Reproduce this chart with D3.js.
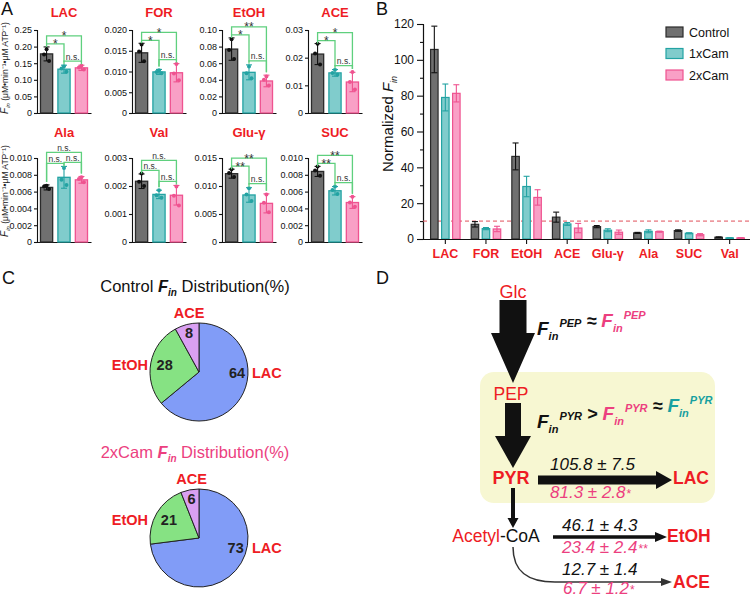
<!DOCTYPE html>
<html>
<head>
<meta charset="utf-8">
<script src="https://cdn.jsdelivr.net/npm/d3@7"></script>
<style>
  body { margin: 0; background: #fff; }
  svg { font-family: "Liberation Sans", Arial, sans-serif; }
</style>
</head>
<body>
<div id="chart"></div>
<script>
// ---------- data ----------
const groups = ["Control", "1xCam", "2xCam"];

// panel A : F_in (uM/min per uM ATP), mean, sd, replicate points
const aNames = ["LAC", "FOR", "EtOH", "ACE", "Ala", "Val", "Glu-γ", "SUC"];
const aMeans = [
  [0.178, 0.132, 0.136],
  [0.0145, 0.0099, 0.0097],
  [0.077, 0.049, 0.0386],
  [0.0213, 0.0145, 0.0112],
  [0.0065, 0.0077, 0.0074],
  [0.00217, 0.0017, 0.00167],
  [0.0122, 0.0084, 0.0069],
  [0.0084, 0.0061, 0.0047]
];
const aSD = [
  [0.021, 0.012, 0.008],
  [0.0023, 0.0006, 0.0022],
  [0.0135, 0.009, 0.007],
  [0.0038, 0.0012, 0.0035],
  [0.0003, 0.0013, 0.0004],
  [0.00026, 0.00015, 0.00035],
  [0.0008, 0.0013, 0.0017],
  [0.0006, 0.0005, 0.0007]
];
const aPoints = [
  [[0.192, 0.176, 0.157], [0.141, 0.134, 0.124], [0.142, 0.137, 0.131]],
  [[0.0165, 0.0148, 0.0125], [0.0103, 0.0099, 0.0096], [0.0118, 0.0095, 0.0079]],
  [[0.089, 0.076, 0.065], [0.056, 0.048, 0.042], [0.044, 0.040, 0.033]],
  [[0.025, 0.0215, 0.0175], [0.0156, 0.0145, 0.0138], [0.0148, 0.0112, 0.0085]],
  [[0.0067, 0.0066, 0.0063], [0.0088, 0.0074, 0.0068], [0.0077, 0.0075, 0.0071]],
  [[0.00245, 0.00215, 0.0020], [0.00185, 0.00167, 0.00158], [0.00198, 0.00165, 0.0013]],
  [[0.0130, 0.0123, 0.0116], [0.0096, 0.0085, 0.0073], [0.0085, 0.0070, 0.0053]],
  [[0.0090, 0.0085, 0.0079], [0.0066, 0.0062, 0.0057], [0.0054, 0.0047, 0.0042]]
];
const aMax = [0.25, 0.020, 0.10, 0.03, 0.010, 0.003, 0.015, 0.010];
const aTickLabels = [
  ["0", "0.05", "0.10", "0.15", "0.20", "0.25"],
  ["0", "0.005", "0.010", "0.015", "0.020"],
  ["0", "0.02", "0.04", "0.06", "0.08", "0.10"],
  ["0", "0.01", "0.02", "0.03"],
  ["0", "0.002", "0.004", "0.006", "0.008", "0.010"],
  ["0", "0.001", "0.002", "0.003"],
  ["0", "0.005", "0.010", "0.015"],
  ["0", "0.002", "0.004", "0.006", "0.008", "0.010"]
];
// significance: [Control vs 1x, Control vs 2x, 1x vs 2x]
const aSig = [
  ["*", "*", "n.s."], ["*", "*", "n.s."], ["*", "**", "n.s."], ["*", "*", "n.s."],
  ["n.s.", "n.s.", "n.s."], ["n.s.", "n.s.", "n.s."], ["**", "**", "n.s."], ["**", "**", "n.s."]
];

// panel B : normalized F_in
const bCats = ["LAC", "FOR", "EtOH", "ACE", "Glu-γ", "Ala", "SUC", "Val"];
const bControl = [105.8, 8.2, 46.1, 12.2, 6.9, 3.4, 4.7, 1.0];
const bControlErr = [13, 1.5, 7.5, 2.8, 0.6, 0.3, 0.4, 0.2];
const b1x = [79, 5.8, 29.3, 8.4, 4.9, 4.3, 3.2, 0.6];
const b1xErr = [7.5, 0.6, 5.7, 0.8, 0.8, 0.8, 0.3, 0.1];
const b2x = [81.3, 5.6, 23.2, 6.1, 3.8, 4.1, 2.4, 0.6];
const b2xErr = [4.8, 1.5, 4.3, 2.6, 1.2, 0.3, 0.6, 0.2];
const bThreshold = 10;

// panel C : distribution (%)
const pieLabels = ["LAC", "EtOH", "ACE"];
const pieControl = [64, 28, 8];
const pieCam = [73, 21, 6];

// panel D : fluxes from PYR / Acetyl-CoA
const dTargets = ["LAC", "EtOH", "ACE"];
const dCtrl = [105.8, 46.1, 12.7];
const dCtrlErr = [7.5, 4.3, 1.4];
const dCam = [81.3, 23.4, 6.7];
const dCamErr = [2.8, 2.4, 1.2];
const dSig = ["*", "**", "*"];

// ---------- styles ----------
const RED = "#ee1c24", PINK = "#ec3f7f", TEAL = "#17a0a0", GREEN = "#5fd07e";
const fills = ["#707070", "#80cccc", "#f9a0c6"];
const strokes = ["#2b2b2b", "#23a3a3", "#ef5390"];

const svg = d3.select("#chart").append("svg")
    .attr("width", 750)
    .attr("height", 597);

// panel letters
[["A", 1, 15], ["B", 376, 15], ["C", 2, 284], ["D", 376, 284]].forEach(p => {
    svg.append("text").attr("x", p[1]).attr("y", p[2]).attr("font-size", 18).attr("fill", "#111").text(p[0]);
});

function styleAxis(g, size) {
    g.attr("font-family", null).attr("font-size", size);
    g.selectAll("path, line").attr("stroke", "#111").attr("stroke-width", 1.1);
    g.selectAll("text").attr("fill", "#111");
}

/* ===== PANEL A ===== */
const aColX = [37, 132, 222, 308];
const aRowY = [[30, 113], [158, 242]];
const aTitleY = [17, 137];
const aLabelY = [68, 191];
const aW = 54;

// y label for each row
aLabelY.forEach(cy => {
    const t = svg.append("text")
        .attr("transform", `translate(7.5,${cy}) rotate(-90)`)
        .attr("text-anchor", "middle")
        .attr("font-size", 8.5)
        .attr("fill", "#222");
    t.append("tspan").attr("font-style", "italic").attr("font-size", 10).text("F");
    t.append("tspan").attr("font-style", "italic").attr("font-size", 6).attr("dy", 2).text("in");
    t.append("tspan").attr("dy", -2).text(" (μM•min⁻¹•μM ATP⁻¹)");
});

const dotDx = [0, -2.5, 2.5];

aNames.forEach((name, k) => {
    const col = k % 4, row = Math.floor(k / 4);
    const top = aRowY[row][0], bot = aRowY[row][1];
    const g = svg.append("g").attr("transform", `translate(${aColX[col]},0)`);
    const x = d3.scaleBand().domain(groups).range([0, aW]).paddingInner(0.3).paddingOuter(0.2);
    const y = d3.scaleLinear().domain([0, aMax[k]]).range([bot, top]);
    const cx = i => x(groups[i]) + x.bandwidth() / 2;

    styleAxis(g.append("g").call(d3.axisLeft(y)
        .tickValues(aTickLabels[k].map(Number))
        .tickSize(3).tickPadding(2)
        .tickFormat((d, i) => aTickLabels[k][i])), 9);
    styleAxis(g.append("g").attr("transform", `translate(0,${bot})`)
        .call(d3.axisBottom(x).tickSize(0).tickFormat("")), 10);

    // title
    g.append("text").attr("x", aW / 2).attr("y", aTitleY[row])
        .attr("text-anchor", "middle").attr("font-weight", "bold")
        .attr("font-size", 13).attr("fill", RED).text(name);

    // bars
    g.selectAll("rect.bar").data(groups).enter().append("rect")
        .attr("x", d => x(d))
        .attr("y", (d, i) => y(aMeans[k][i]))
        .attr("width", x.bandwidth())
        .attr("height", (d, i) => bot - y(aMeans[k][i]))
        .attr("fill", (d, i) => fills[i])
        .attr("stroke", (d, i) => strokes[i])
        .attr("stroke-width", 1.3);

    // error bars and replicate points
    groups.forEach((gr, i) => {
        const m = aMeans[k][i], s = aSD[k][i];
        const eg = g.append("g").attr("stroke", i === 0 ? "#111" : strokes[i]).attr("stroke-width", 1.1);
        eg.append("line").attr("x1", cx(i)).attr("x2", cx(i)).attr("y1", y(m + s)).attr("y2", y(m - s));
        eg.append("line").attr("x1", cx(i) - 3).attr("x2", cx(i) + 3).attr("y1", y(m + s)).attr("y2", y(m + s));
        eg.append("line").attr("x1", cx(i) - 3).attr("x2", cx(i) + 3).attr("y1", y(m - s)).attr("y2", y(m - s));
        g.selectAll(null).data(aPoints[k][i]).enter().append("circle")
            .attr("cx", (d, j) => cx(i) + dotDx[j])
            .attr("cy", d => y(d))
            .attr("r", 2)
            .attr("fill", i === 0 ? "#111" : strokes[i]);
    });

    // significance brackets
    const topOf = i => Math.min(y(aMeans[k][i] + aSD[k][i]), y(d3.max(aPoints[k][i])));
    const lvlInner = Math.min(topOf(0), topOf(1)) - 3;
    const lvlNs = Math.min(topOf(1), topOf(2)) - 4;
    const lvlOuter = Math.min(lvlInner, lvlNs) - (aSig[k][1] === "n.s." ? 10 : 8);
    const brackets = [[0, 1, lvlInner, aSig[k][0]], [0, 2, lvlOuter, aSig[k][1]], [1, 2, lvlNs, aSig[k][2]]];
    brackets.forEach(b => {
        const x1 = cx(b[0]), x2 = cx(b[1]), L = b[2];
        const leg1 = Math.max(L + 3, topOf(b[0]) - 3), leg2 = Math.max(L + 3, topOf(b[1]) - 3);
        g.append("path")
            .attr("d", `M${x1},${leg1}V${L}H${x2}V${leg2}`)
            .attr("fill", "none").attr("stroke", GREEN).attr("stroke-width", 1.3);
        const ns = b[3] === "n.s.";
        g.append("text").attr("x", (x1 + x2) / 2)
            .attr("y", ns ? L - 1.5 : L + 4.5)
            .attr("text-anchor", "middle")
            .attr("font-size", ns ? 8.5 : 12)
            .attr("fill", "#333").text(b[3]);
    });
});

/* ===== PANEL B ===== */
const bSeries = [bControl, b1x, b2x];
const bErrs = [bControlErr, b1xErr, b2xErr];
const bX = d3.scaleBand().domain(bCats).range([423, 752]).paddingInner(0).paddingOuter(0.05);
const bY = d3.scaleLinear().domain([0, 120]).range([239, 24]);
const bSub = d3.scaleBand().domain(groups).range([-14.75, 14.75]).paddingInner(0.32);
const bc = d => bX(d) + bX.bandwidth() / 2;

// minor ticks
styleAxis(svg.append("g").attr("transform", "translate(423,0)")
    .call(d3.axisLeft(bY).tickValues(d3.range(10, 120, 20)).tickSize(3).tickFormat("")), 12);
styleAxis(svg.append("g").attr("transform", "translate(423,0)")
    .call(d3.axisLeft(bY).tickValues(d3.range(0, 121, 20)).tickSize(6).tickSizeOuter(0).tickPadding(3)), 12);

// threshold line
svg.append("line")
    .attr("x1", 423).attr("x2", 752)
    .attr("y1", bY(bThreshold)).attr("y2", bY(bThreshold))
    .attr("stroke", "#e0505a").attr("stroke-width", 1).attr("stroke-dasharray", "4,3");

bSeries.forEach((ser, i) => {
    svg.selectAll(null).data(bCats).enter().append("rect")
        .attr("x", d => bc(d) + bSub(groups[i]))
        .attr("y", (d, j) => bY(ser[j]))
        .attr("width", bSub.bandwidth())
        .attr("height", (d, j) => bY(0) - bY(ser[j]))
        .attr("fill", fills[i])
        .attr("stroke", strokes[i])
        .attr("stroke-width", 1.2);
    const ex = d => bc(d) + bSub(groups[i]) + bSub.bandwidth() / 2;
    const eg = svg.append("g").attr("stroke", i === 0 ? "#111" : strokes[i]).attr("stroke-width", 1.1);
    bCats.forEach((d, j) => {
        const hi = bY(ser[j] + bErrs[i][j]), lo = bY(Math.max(0, ser[j] - bErrs[i][j]));
        eg.append("line").attr("x1", ex(d)).attr("x2", ex(d)).attr("y1", hi).attr("y2", lo);
        eg.append("line").attr("x1", ex(d) - 3).attr("x2", ex(d) + 3).attr("y1", hi).attr("y2", hi);
        eg.append("line").attr("x1", ex(d) - 3).attr("x2", ex(d) + 3).attr("y1", lo).attr("y2", lo);
    });
});

const bxAxis = svg.append("g").attr("transform", `translate(0,${bY(0)})`)
    .call(d3.axisBottom(bX).tickSize(5).tickSizeOuter(0).tickPadding(5));
styleAxis(bxAxis, 12.5);
bxAxis.selectAll("text").attr("fill", RED).attr("font-weight", "bold");

// y label
const bLab = svg.append("text")
    .attr("transform", `translate(393,124) rotate(-90)`)
    .attr("text-anchor", "middle").attr("font-size", 15).attr("fill", "#111");
bLab.append("tspan").text("Normalized ");
bLab.append("tspan").attr("font-style", "italic").text("F");
bLab.append("tspan").attr("font-style", "italic").attr("font-size", 9).attr("dy", 4).text("in");

// legend
groups.forEach((gr, i) => {
    svg.append("rect").attr("x", 666).attr("y", 27 + i * 21.5).attr("width", 17).attr("height", 10)
        .attr("fill", fills[i]).attr("stroke", strokes[i]).attr("stroke-width", 1.2);
    svg.append("text").attr("x", 689).attr("y", 36.5 + i * 21.5).attr("font-size", 12.5)
        .attr("fill", "#111").text(gr);
});

/* ===== PANEL C ===== */
const pieColors = ["#819cf7", "#86e283", "#d9a0f2"];
const pieSets = [
    { title: "Control", vals: pieControl, cy: 372, ty: 292, color: "#111" },
    { title: "2xCam", vals: pieCam, cy: 538, ty: 458, color: PINK }
];
const R = 49, pcx = 199;
const pie = d3.pie().sort(null).value(d => d);
const arc = d3.arc().innerRadius(0).outerRadius(R);

pieSets.forEach(ps => {
    const t = svg.append("text").attr("x", 195).attr("y", ps.ty)
        .attr("text-anchor", "middle").attr("font-size", 16.5).attr("fill", ps.color);
    t.append("tspan").text(ps.title + " ");
    t.append("tspan").attr("font-weight", "bold").attr("font-style", "italic").text("F");
    t.append("tspan").attr("font-weight", "bold").attr("font-style", "italic").attr("font-size", 10).attr("dy", 4).text("in");
    t.append("tspan").attr("dy", -4).text(" Distribution(%)");

    const g = svg.append("g").attr("transform", `translate(${pcx},${ps.cy})`);
    const arcs = pie(ps.vals);
    g.selectAll("path").data(arcs).enter().append("path")
        .attr("d", arc)
        .attr("fill", (d, i) => pieColors[i])
        .attr("stroke", "#222").attr("stroke-width", 1);

    arcs.forEach((a, i) => {
        let ang = (a.startAngle + a.endAngle) / 2;
        let r = i === 2 ? 40 : 35;
        if (i === 0) { ang *= 0.8; r = 38; }
        const nx = Math.sin(ang) * r, ny = -Math.cos(ang) * r;
        g.append("text").attr("x", nx).attr("y", ny + 5)
            .attr("text-anchor", "middle").attr("font-weight", "bold")
            .attr("font-size", 14.5).attr("fill", "#222").text(ps.vals[i]);
        const lab = g.append("text").attr("font-weight", "bold").attr("font-size", 14.5).attr("fill", RED).text(pieLabels[i]);
        if (i === 0) lab.attr("x", R + 4).attr("y", ny + 5);
        else if (i === 1) lab.attr("x", -R - 2).attr("y", ny + 5).attr("text-anchor", "end");
        else lab.attr("x", nx).attr("y", -R - 5).attr("text-anchor", "middle");
    });
});

/* ===== PANEL D ===== */
const dg = svg.append("g");
dg.append("rect").attr("x", 480).attr("y", 372).attr("width", 235).attr("height", 131)
    .attr("rx", 14).attr("fill", "#f7f7d2");

const line = d3.line();
function vArrow(x, y1, y2, shaft, head, headLen) {
    return line([[x - shaft / 2, y1], [x + shaft / 2, y1], [x + shaft / 2, y2 - headLen], [x + head / 2, y2 - headLen],
        [x, y2], [x - head / 2, y2 - headLen], [x - shaft / 2, y2 - headLen]]) + "Z";
}
function hArrow(y, x1, x2, shaft, head, headLen) {
    return line([[x1, y - shaft / 2], [x2 - headLen, y - shaft / 2], [x2 - headLen, y - head / 2], [x2, y],
        [x2 - headLen, y + head / 2], [x2 - headLen, y + shaft / 2], [x1, y + shaft / 2]]) + "Z";
}

dg.append("path").attr("d", vArrow(513, 300, 383, 27, 44, 50)).attr("fill", "#111");
dg.append("path").attr("d", vArrow(513, 403, 468, 16, 36, 32)).attr("fill", "#111");
dg.append("path").attr("d", vArrow(513, 488, 528, 4, 11, 10)).attr("fill", "#111");
dg.append("path").attr("d", hArrow(480, 538, 672, 9, 18, 16)).attr("fill", "#111");
dg.append("path").attr("d", hArrow(537, 553, 667, 3.5, 10, 12)).attr("fill", "#111");
dg.append("path").attr("d", "M513,547C513,572 528,582 555,582H662")
    .attr("fill", "none").attr("stroke", "#333").attr("stroke-width", 1.5);
dg.append("path").attr("d", hArrow(582, 660, 672, 1.5, 8, 11)).attr("fill", "#333");

// metabolite names
dg.append("text").attr("x", 513).attr("y", 298).attr("text-anchor", "middle").attr("font-size", 18).attr("fill", RED).text("Glc");
dg.append("text").attr("x", 511).attr("y", 400).attr("text-anchor", "middle").attr("font-size", 17.5).attr("fill", RED).text("PEP");
dg.append("text").attr("x", 511).attr("y", 484).attr("text-anchor", "middle").attr("font-size", 18).attr("font-weight", "bold").attr("fill", RED).text("PYR");
const acoa = dg.append("text").attr("x", 496).attr("y", 542).attr("text-anchor", "middle").attr("font-size", 17.5);
acoa.append("tspan").attr("fill", RED).text("Acetyl");
acoa.append("tspan").attr("fill", "#111").text("-CoA");

const targetX = [673, 667, 673], targetY = [484, 542, 588];
const ctrlPos = [[550, 470], [562, 531], [562, 575]];
const camPos = [[550, 498], [562, 553], [563, 594]];
dTargets.forEach((t, i) => {
    dg.append("text").attr("x", targetX[i]).attr("y", targetY[i]).attr("font-size", 17.5)
        .attr("font-weight", "bold").attr("fill", RED).text(t);
    dg.append("text").attr("x", ctrlPos[i][0]).attr("y", ctrlPos[i][1]).attr("font-size", 17)
        .attr("font-style", "italic").attr("fill", "#111")
        .text(`${dCtrl[i].toFixed(1)} ± ${dCtrlErr[i].toFixed(1)}`);
    const c = dg.append("text").attr("x", camPos[i][0]).attr("y", camPos[i][1]).attr("font-size", 17)
        .attr("font-style", "italic").attr("fill", PINK);
    c.append("tspan").text(`${dCam[i].toFixed(1)} ± ${dCamErr[i].toFixed(1)}`);
    c.append("tspan").attr("font-size", 12).attr("font-style", "normal").attr("dx", 1).text(dSig[i]);
});

// F_in relations
function addFin(t, color, sup) {
    t.append("tspan").attr("fill", color).attr("font-size", 19).text("F");
    t.append("tspan").attr("fill", color).attr("font-size", 11).attr("dy", 5).text("in");
    t.append("tspan").attr("fill", color).attr("font-size", 11).attr("dy", -13).attr("dx", 1).text(sup);
    t.append("tspan").attr("font-size", 18).attr("dy", 8).text("");
}
function addOp(t, s) {
    t.append("tspan").attr("fill", "#111").attr("font-size", 18).text(s);
}
const f1 = dg.append("text").attr("x", 537).attr("y", 335).attr("font-weight", "bold").attr("font-style", "italic");
addFin(f1, "#111", "PEP"); addOp(f1, " ≈ "); addFin(f1, PINK, "PEP");
const f2 = dg.append("text").attr("x", 537).attr("y", 428).attr("font-weight", "bold").attr("font-style", "italic");
addFin(f2, "#111", "PYR"); addOp(f2, " > "); addFin(f2, PINK, "PYR"); addOp(f2, " ≈ "); addFin(f2, TEAL, "PYR");
</script>
</body>
</html>
